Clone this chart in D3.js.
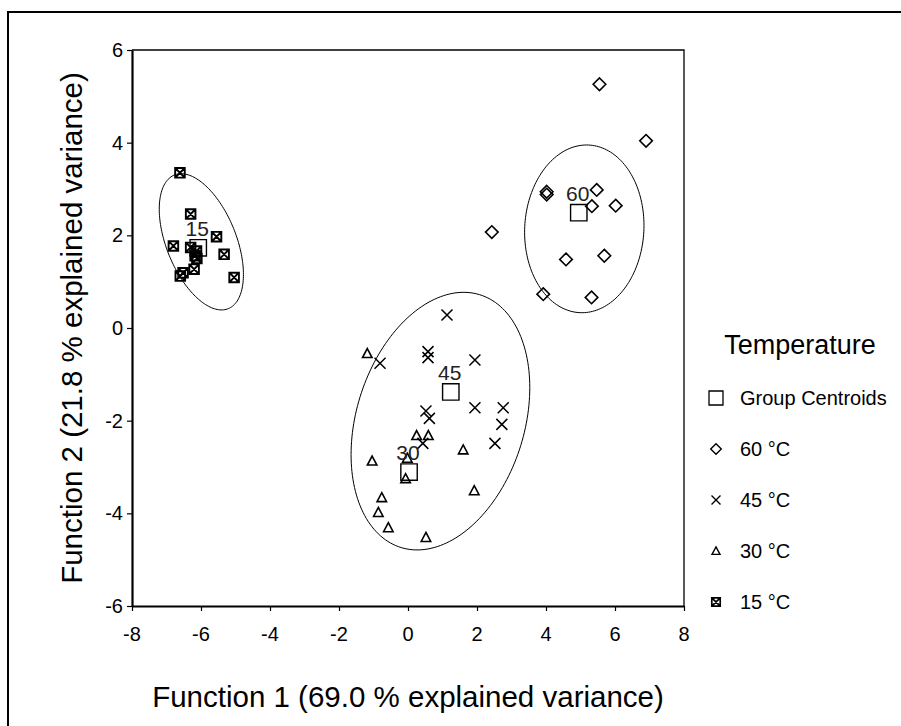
<!DOCTYPE html>
<html>
<head>
<meta charset="utf-8">
<script src="https://cdn.jsdelivr.net/npm/d3@7"></script>
<style>
  html, body { margin: 0; padding: 0; background: #fff; }
  svg { display: block; font-family: Arial, "Liberation Sans", sans-serif; }
</style>
</head>
<body>
<svg id="chart" width="901" height="726"></svg>
<script>
// Discriminant scores (Function 1, Function 2) per temperature group
const t60x = [5.55, 6.90, 4.02, 4.02, 5.47, 5.33, 6.02, 2.43, 5.69, 4.58, 3.92, 5.32];
const t60y = [5.26, 4.04, 2.94, 2.88, 2.98, 2.63, 2.64, 2.07, 1.56, 1.48, 0.73, 0.66];

const t45x = [1.13, 0.58, 0.58, -0.81, 1.94, 1.94, 2.76, 0.52, 0.62, 2.72, 0.43, 2.52];
const t45y = [0.28, -0.51, -0.64, -0.76, -0.69, -1.72, -1.72, -1.79, -1.95, -2.08, -2.49, -2.49];

const t30x = [-1.18, 0.25, 0.59, 1.60, -1.04, -0.02, -0.07, 1.92, -0.76, -0.86, -0.57, 0.52];
const t30y = [-0.55, -2.32, -2.32, -2.63, -2.87, -2.81, -3.25, -3.51, -3.66, -3.98, -4.31, -4.52];

const t15x = [-6.61, -6.30, -5.55, -6.80, -6.30, -6.13, -6.17, -6.12, -5.33, -6.20, -6.52, -6.60, -5.04];
const t15y = [3.35, 2.46, 1.97, 1.77, 1.74, 1.66, 1.56, 1.50, 1.59, 1.27, 1.19, 1.12, 1.09];

// Group centroids
const centroidLabels = ["15", "60", "45", "30"];
const centroidX = [-6.08, 4.95, 1.24, 0.03];
const centroidY = [1.73, 2.49, -1.38, -3.11];

// Group ellipses: centre, half-extent in x and y, correlation
const ellCx = [-5.99, 5.11, 0.94];
const ellCy = [1.86, 2.14, -2.01];
const ellHx = [1.22, 1.73, 2.59];
const ellHy = [1.47, 1.81, 2.78];
const ellR  = [-0.48, 0.04, 0.26];

const xTicks = [-8, -6, -4, -2, 0, 2, 4, 6, 8];
const yTicks = [-6, -4, -2, 0, 2, 4, 6];

const legendLabels = ["Group Centroids", "60 °C", "45 °C", "30 °C", "15 °C"];

const svg = d3.select("#chart");

// outer frame (continues past the right and bottom edges)
svg.append("rect")
  .attr("x", 8).attr("y", 12).attr("width", 1000).attr("height", 1000)
  .attr("fill", "none").attr("stroke", "#000").attr("stroke-width", 2);

const x = d3.scaleLinear().domain([-8, 8]).range([132, 684]);
const y = d3.scaleLinear().domain([-6, 6]).range([606, 50]);

// plot box top and right
svg.append("path")
  .attr("d", `M${x(-8)},${y(6)}H${x(8)}V${y(-6)}`)
  .attr("fill", "none").attr("stroke", "#000").attr("stroke-width", 1.3);

// axis lines and ticks
const xAxis = svg.append("g")
  .attr("transform", `translate(0,${y(-6)})`)
  .call(d3.axisBottom(x).tickValues(xTicks).tickSize(5).tickSizeOuter(0).tickFormat(""));
const yAxis = svg.append("g")
  .attr("transform", `translate(${x(-8)},0)`)
  .call(d3.axisLeft(y).tickValues(yTicks).tickSize(5).tickSizeOuter(0).tickFormat(""));

[xAxis, yAxis].forEach(g => {
  g.select(".domain").attr("stroke", "#000").attr("stroke-width", 2.2);
  g.selectAll(".tick line").attr("stroke", "#000").attr("stroke-width", 1.2);
});

// tick labels
const tickLabels = svg.append("g").attr("font-size", 20).attr("fill", "#000");
tickLabels.selectAll(null).data(xTicks).enter().append("text")
  .attr("x", d => x(d)).attr("y", y(-6) + 35)
  .attr("text-anchor", "middle").text(d => String(d));
tickLabels.selectAll(null).data(yTicks).enter().append("text")
  .attr("x", x(-8) - 9).attr("y", d => y(d) + 7)
  .attr("text-anchor", "end").text(d => String(d));

// axis titles
svg.append("text")
  .attr("x", x(0)).attr("y", 707)
  .attr("text-anchor", "middle").attr("font-size", 29.5)
  .text("Function 1 (69.0 % explained variance)");
svg.append("text")
  .attr("transform", `translate(82,${y(0)}) rotate(-90)`)
  .attr("text-anchor", "middle").attr("font-size", 29.5)
  .text("Function 2 (21.8 % explained variance)");

// ellipses
const plot = svg.append("g");
const ellLine = d3.line().x(d => x(d[0])).y(d => y(d[1])).curve(d3.curveLinearClosed);
ellCx.forEach((cx, i) => {
  const pts = d3.range(0, 2 * Math.PI, Math.PI / 90).map(t => [
    cx + ellHx[i] * Math.cos(t),
    ellCy[i] + ellHy[i] * (ellR[i] * Math.cos(t) + Math.sqrt(1 - ellR[i] * ellR[i]) * Math.sin(t))
  ]);
  plot.append("path").attr("d", ellLine(pts))
    .attr("fill", "none").attr("stroke", "#000").attr("stroke-width", 1);
});

// marker shapes (path strings centred on 0,0)
function diamondPath(r) { return `M0,${-r}L${r},0L0,${r}L${-r},0Z`; }
function crossPath(r) { return `M${-r},${-r}L${r},${r}M${-r},${r}L${r},${-r}`; }
function trianglePath(w, h) { return `M0,${-h * 0.55}L${w / 2},${h * 0.45}L${-w / 2},${h * 0.45}Z`; }
function boxXPath(s) { return `M${-s},${-s}H${s}V${s}H${-s}Z M${-s},${-s}L${s},${s}M${-s},${s}L${s},${-s}`; }
function squarePath(s) { return `M${-s},${-s}H${s}V${s}H${-s}Z`; }

function drawSeries(xs, ys, d, sw) {
  plot.selectAll(null).data(xs.map((v, i) => [v, ys[i]])).enter().append("path")
    .attr("transform", p => `translate(${x(p[0])},${y(p[1])})`)
    .attr("d", d).attr("fill", "none").attr("stroke", "#000").attr("stroke-width", sw);
}

drawSeries(t60x, t60y, diamondPath(6.3), 1.6);
drawSeries(t45x, t45y, crossPath(5.5), 1.5);
drawSeries(t30x, t30y, trianglePath(9.5, 9), 1.6);
drawSeries(t15x, t15y, boxXPath(4.8), 1.9);

// centroids with group labels
drawSeries(centroidX, centroidY, squarePath(8.2), 1.4);
plot.selectAll(null).data(centroidLabels).enter().append("text")
  .attr("x", (d, i) => x(centroidX[i]) - 1)
  .attr("y", (d, i) => y(centroidY[i]) - 12)
  .attr("text-anchor", "middle").attr("font-size", 21).attr("fill", "#222")
  .text(d => d);

// legend
const lg = svg.append("g");
lg.append("text").attr("x", 800).attr("y", 354).attr("text-anchor", "middle")
  .attr("font-size", 27).text("Temperature");
const legendShapes = [
  [squarePath(7), 1.3], [diamondPath(5.3), 1.4], [crossPath(4.5), 1.4],
  [trianglePath(8, 7.5), 1.4], [boxXPath(4.2), 1.7]
];
legendLabels.forEach((lab, i) => {
  const cy = 398 + i * 51;
  lg.append("path").attr("transform", `translate(716,${cy})`)
    .attr("d", legendShapes[i][0]).attr("fill", "none")
    .attr("stroke", "#000").attr("stroke-width", legendShapes[i][1]);
  lg.append("text").attr("x", 740).attr("y", cy + 7).attr("font-size", 20)
    .text(lab);
});
</script>
</body>
</html>
